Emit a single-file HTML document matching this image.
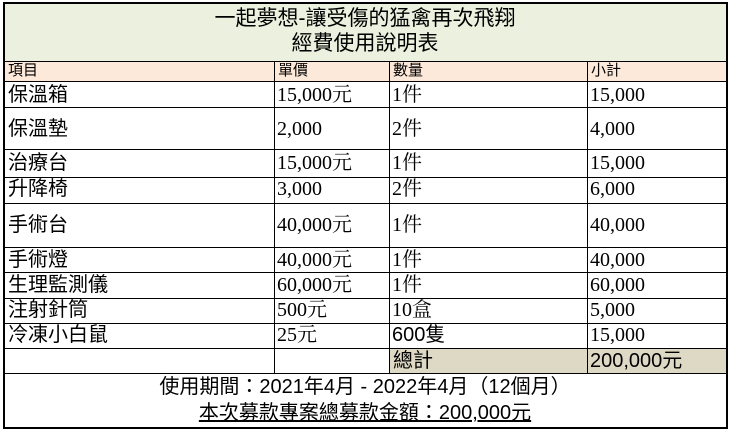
<!DOCTYPE html><html><head><meta charset="utf-8"><style>
body{margin:0;width:730px;height:432px;background:#fff;position:relative;overflow:hidden}
.b{position:absolute;box-sizing:border-box}
.t{position:absolute;white-space:nowrap;font-family:"Liberation Sans","Noto Sans CJK TC",sans-serif;color:#000;font-size:20px;line-height:24px}
.s{font-family:"Liberation Serif","Noto Serif CJK SC",serif}
.hd{font-size:15px;line-height:18px}
.h{position:absolute;height:1px;background:#000;left:4px;width:723px}
.v{position:absolute;width:1px;background:#000}
</style></head><body>
<div class="b" style="left:4px;top:3px;width:723px;height:58px;background:#ebf1de"></div>
<div class="b" style="left:4px;top:61px;width:723px;height:20px;background:#fde9d9"></div>
<div class="b" style="left:389px;top:348px;width:338px;height:25px;background:#ddd9c4"></div>
<div class="h" style="top:61px"></div><div class="h" style="top:81px"></div><div class="h" style="top:107px"></div><div class="h" style="top:149px"></div><div class="h" style="top:177px"></div><div class="h" style="top:203px"></div><div class="h" style="top:247px"></div><div class="h" style="top:272px"></div><div class="h" style="top:298px"></div><div class="h" style="top:323px"></div><div class="h" style="top:348px"></div><div class="h" style="top:373px"></div>
<div class="v" style="left:274px;top:61px;height:312px"></div><div class="v" style="left:389px;top:61px;height:312px"></div><div class="v" style="left:587px;top:61px;height:312px"></div>
<div class="b" style="left:3px;top:2px;width:725px;height:427px;border:2px solid #000"></div>
<div class="t" style="left:0;width:730px;text-align:center;top:7px;font-size:21px">一起夢想-讓受傷的猛禽再次飛翔</div>
<div class="t" style="left:0;width:730px;text-align:center;top:32px;font-size:21px">經費使用說明表</div>
<div class="t hd" style="left:8px;top:62px">項目</div>
<div class="t hd" style="left:278px;top:62px">單價</div>
<div class="t hd" style="left:393px;top:62px">數量</div>
<div class="t hd" style="left:591px;top:62px">小計</div>
<div class="t" style="left:8px;top:83px">保溫箱</div><div class="t s" style="left:277px;top:83px">15,000元</div><div class="t s" style="left:392px;top:83px">1件</div><div class="t s" style="left:590px;top:83px">15,000</div>
<div class="t" style="left:8px;top:117px">保溫墊</div><div class="t s" style="left:277px;top:117px">2,000</div><div class="t s" style="left:392px;top:117px">2件</div><div class="t s" style="left:590px;top:117px">4,000</div>
<div class="t" style="left:8px;top:151px">治療台</div><div class="t s" style="left:277px;top:151px">15,000元</div><div class="t s" style="left:392px;top:151px">1件</div><div class="t s" style="left:590px;top:151px">15,000</div>
<div class="t" style="left:8px;top:177px">升降椅</div><div class="t s" style="left:277px;top:177px">3,000</div><div class="t s" style="left:392px;top:177px">2件</div><div class="t s" style="left:590px;top:177px">6,000</div>
<div class="t" style="left:8px;top:213px">手術台</div><div class="t s" style="left:277px;top:213px">40,000元</div><div class="t s" style="left:392px;top:213px">1件</div><div class="t s" style="left:590px;top:213px">40,000</div>
<div class="t" style="left:8px;top:248px">手術燈</div><div class="t s" style="left:277px;top:248px">40,000元</div><div class="t s" style="left:392px;top:248px">1件</div><div class="t s" style="left:590px;top:248px">40,000</div>
<div class="t" style="left:8px;top:273px">生理監測儀</div><div class="t s" style="left:277px;top:273px">60,000元</div><div class="t s" style="left:392px;top:273px">1件</div><div class="t s" style="left:590px;top:273px">60,000</div>
<div class="t" style="left:8px;top:298px">注射針筒</div><div class="t s" style="left:277px;top:298px">500元</div><div class="t s" style="left:392px;top:298px">10盒</div><div class="t s" style="left:590px;top:298px">5,000</div>
<div class="t" style="left:8px;top:323px">冷凍小白鼠</div><div class="t s" style="left:277px;top:323px">25元</div><div class="t" style="left:392px;top:323px">600隻</div><div class="t s" style="left:590px;top:323px">15,000</div>
<div class="t" style="left:393px;top:349px">總計</div><div class="t" style="left:590px;top:349px">200,000元</div>
<div class="t" style="left:0;width:730px;text-align:center;top:375px">使用期間：2021年4月 - 2022年4月（12個月）</div>
<div class="t" style="left:0;width:730px;text-align:center;top:401px;text-decoration:underline">本次募款專案總募款金額：200,000元</div>
</body></html>
